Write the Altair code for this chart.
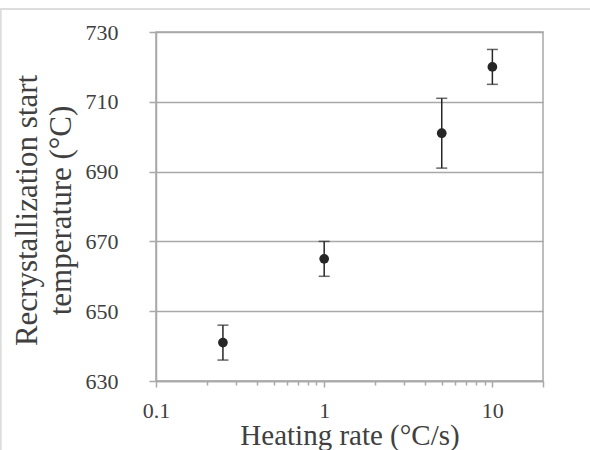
import altair as alt
import pandas as pd

# ---- data ----
rates = [0.25, 1, 5, 10]          # heating rate (°C/s)
temps = [641, 665, 701, 720]      # recrystallization start temperature (°C)
errs = [5, 5, 10, 5]              # error bar half-length (°C)

x_ticks = [0.1, 0.2, 0.3, 0.4, 0.5, 0.6, 0.7, 0.8, 0.9,
           1, 2, 3, 4, 5, 6, 7, 8, 9, 10, 20]
x_labels = [0.1, 1, 10]
y_ticks = [630, 640, 650, 660, 670, 680, 690, 700, 710, 720, 730]
y_labels = [630, 650, 670, 690, 710, 730]

x_title = "Heating rate (°C/s)"
y_title = ["Recrystallization start", "temperature (°C)"]

df = pd.DataFrame({"rate": rates, "temp": temps, "err": errs})
df["lo"] = df["temp"] - df["err"]
df["hi"] = df["temp"] + df["err"]

FONT = "Liberation Serif"
TEXT = "#404040"
GRID = "#a8a8a8"
MARK = "#262626"

def arr(v):
    return "[" + ",".join(str(a) for a in v) + "]"

x_scale = alt.Scale(type="log", domain=[0.1, 20], nice=False)
y_scale = alt.Scale(domain=[630, 730], nice=False, zero=False)

x_axis = alt.Axis(
    values=x_ticks,
    format="~g",
    labelExpr=f"indexof({arr(x_labels)}, datum.value) >= 0 ? datum.label : ''",
    labelFlush=False,
    labelOverlap=False,
    labelPadding=13,
    grid=False,
    tickSize={"condition": {"test": "indexof([0.1,1,10,20], datum.value) >= 0", "value": 6}, "value": 4},
    title=x_title,
    titleFontSize=29,
    titleAnchor="middle",
    titleAlign="center",
    titleBaseline="alphabetic",
    titleX=193.5,
    titleY=63,
)

y_axis = alt.Axis(
    values=y_ticks,
    labelExpr=f"indexof({arr(y_labels)}, datum.value) >= 0 ? datum.label : ''",
    labelOverlap=False,
    labelPadding=31,
    grid=True,
    gridOpacity={"condition": {"test": f"indexof({arr(y_labels)}, datum.value) >= 0", "value": 1}, "value": 0},
    tickSize={"condition": {"test": f"indexof({arr(y_labels)}, datum.value) >= 0", "value": 7}, "value": 4},
    title=y_title,
    titleFontSize=31,
    titleAngle=270,
    titleAlign="center",
    titleBaseline="alphabetic",
    titleLineHeight=34,
    titleX=-120,
    titleY=178,
)

base = alt.Chart(df)

points = base.mark_circle(size=95, color=MARK, opacity=1).encode(
    x=alt.X("rate:Q", scale=x_scale, axis=x_axis),
    y=alt.Y("temp:Q", scale=y_scale, axis=y_axis),
)

bars = base.mark_rule(color=MARK, strokeWidth=1.5).encode(
    x=alt.X("rate:Q", scale=x_scale),
    y=alt.Y("lo:Q", scale=y_scale),
    y2="hi:Q",
)

cap_lo = base.mark_tick(orient="horizontal", size=11, thickness=1.5, color=MARK).encode(
    x=alt.X("rate:Q", scale=x_scale),
    y=alt.Y("lo:Q", scale=y_scale),
)
cap_hi = base.mark_tick(orient="horizontal", size=11, thickness=1.5, color=MARK).encode(
    x=alt.X("rate:Q", scale=x_scale),
    y=alt.Y("hi:Q", scale=y_scale),
)

# faint outer frame of the figure
frame_top = base.mark_rule(color="#dcdcdc", strokeWidth=1.5).encode(
    x=alt.value(-156), x2=alt.value(434), y=alt.value(-23)
)
frame_left = base.mark_rule(color="#dcdcdc", strokeWidth=1.5).encode(
    x=alt.value(-155.5), y=alt.value(-23), y2=alt.value(418)
)

chart = alt.layer(frame_top, frame_left, bars, cap_lo, cap_hi, points).properties(
    width=387,
    height=349,
    background="white",
    autosize=alt.AutoSizeParams(type="none"),
    padding={"left": 156, "top": 32, "right": 47, "bottom": 69},
).configure_view(
    stroke=GRID, strokeWidth=1.5
).configure_axis(
    labelFont=FONT,
    labelFontSize=22,
    labelColor=TEXT,
    titleFont=FONT,
    titleColor=TEXT,
    titleFontWeight="normal",
    domainColor=GRID,
    domainWidth=1.5,
    tickColor=GRID,
    tickWidth=1.5,
    gridColor=GRID,
    gridWidth=1.5,
)

chart.save("out.html", embed_options={"renderer": "svg", "actions": False})
